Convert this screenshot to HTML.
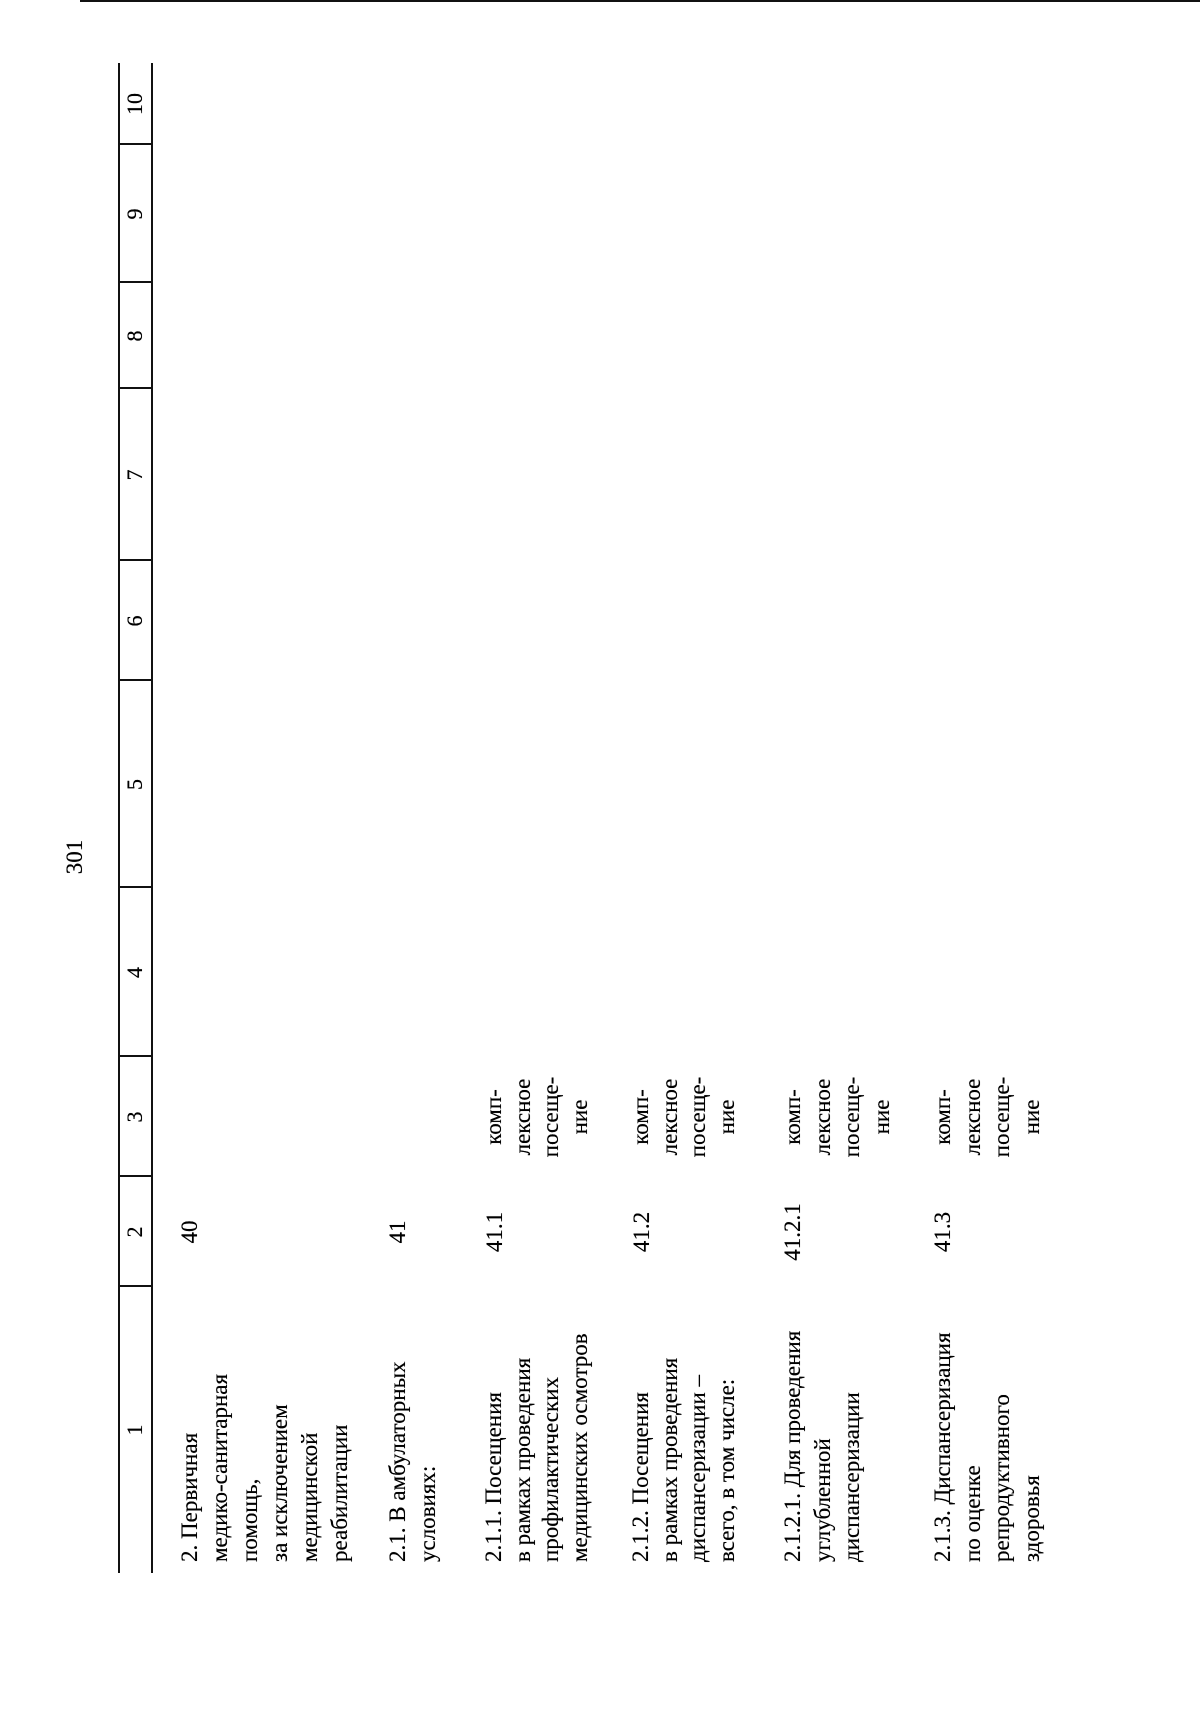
<!DOCTYPE html>
<html><head><meta charset="utf-8">
<style>
html,body{margin:0;padding:0;background:#fff;}
body{width:1200px;height:1711px;position:relative;overflow:hidden;}
#f{position:absolute;left:0;top:1711px;width:1711px;height:1200px;transform-origin:0 0;transform:rotate(-90deg);font-family:"Liberation Serif","DejaVu Serif",serif;color:#000;text-shadow:0 0 0.4px #000;}
.t{position:absolute;font-size:23px;line-height:30px;white-space:nowrap;}
.c{text-align:center;}
.h{position:absolute;height:1.5px;background:#111;}
.v{position:absolute;width:1.5px;background:#111;}
.n{position:absolute;top:118px;height:33px;line-height:33px;font-size:22px;text-align:center;}
</style></head><body>
<div style="position:absolute;left:80px;top:0;width:1120px;height:2px;background:#111"></div>
<div id="f">
  <div class="h" style="left:138px;width:1510px;top:118px;"></div>
  <div class="h" style="left:138px;width:1510px;top:151px;"></div>
  <div class="v" style="left:424px;top:118px;height:33px"></div>
  <div class="v" style="left:534px;top:118px;height:33px"></div>
  <div class="v" style="left:654px;top:118px;height:33px"></div>
  <div class="v" style="left:823px;top:118px;height:33px"></div>
  <div class="v" style="left:1030px;top:118px;height:33px"></div>
  <div class="v" style="left:1150px;top:118px;height:33px"></div>
  <div class="v" style="left:1322px;top:118px;height:33px"></div>
  <div class="v" style="left:1428px;top:118px;height:33px"></div>
  <div class="v" style="left:1566px;top:118px;height:33px"></div>
  <div class="n" style="left:138px;width:286px">1</div>
  <div class="n" style="left:424px;width:110px">2</div>
  <div class="n" style="left:534px;width:120px">3</div>
  <div class="n" style="left:654px;width:169px">4</div>
  <div class="n" style="left:823px;width:207px">5</div>
  <div class="n" style="left:1030px;width:120px">6</div>
  <div class="n" style="left:1150px;width:172px">7</div>
  <div class="n" style="left:1322px;width:106px">8</div>
  <div class="n" style="left:1428px;width:138px">9</div>
  <div class="n" style="left:1566px;width:82px">10</div>

  <div class="t c" style="left:804px;width:100px;top:60px;font-size:23px">301</div>

  <div class="t" style="left:149px;top:175px">2. Первичная<br>медико-санитарная<br>помощь,<br>за исключением<br>медицинской<br>реабилитации</div>
  <div class="t c" style="left:424px;width:110px;top:175px">40</div>
  <div class="t" style="left:149px;top:383px">2.1. В амбулаторных<br>условиях:</div>
  <div class="t c" style="left:424px;width:110px;top:383px">41</div>
  <div class="t" style="left:149px;top:480px;line-height:28.5px">2.1.1. Посещения<br>в рамках проведения<br>профилактических<br>медицинских осмотров</div>
  <div class="t c" style="left:424px;width:110px;top:480px">41.1</div>
  <div class="t c" style="left:534px;width:120px;top:480px;line-height:28.5px">комп-<br>лексное<br>посеще-<br>ние</div>
  <div class="t" style="left:149px;top:627px;line-height:28.5px">2.1.2. Посещения<br>в рамках проведения<br>диспансеризации –<br>всего, в том числе:</div>
  <div class="t c" style="left:424px;width:110px;top:627px">41.2</div>
  <div class="t c" style="left:534px;width:120px;top:627px;line-height:28.5px">комп-<br>лексное<br>посеще-<br>ние</div>
  <div class="t" style="left:149px;top:778px;line-height:29.5px">2.1.2.1. Для проведения<br>углубленной<br>диспансеризации</div>
  <div class="t c" style="left:424px;width:110px;top:778px">41.2.1</div>
  <div class="t c" style="left:534px;width:120px;top:778px;line-height:29.5px">комп-<br>лексное<br>посеще-<br>ние</div>
  <div class="t" style="left:149px;top:928px;line-height:29.5px">2.1.3. Диспансеризация<br>по оценке<br>репродуктивного<br>здоровья</div>
  <div class="t c" style="left:424px;width:110px;top:928px">41.3</div>
  <div class="t c" style="left:534px;width:120px;top:928px;line-height:29.5px">комп-<br>лексное<br>посеще-<br>ние</div>
</div>
</body></html>
